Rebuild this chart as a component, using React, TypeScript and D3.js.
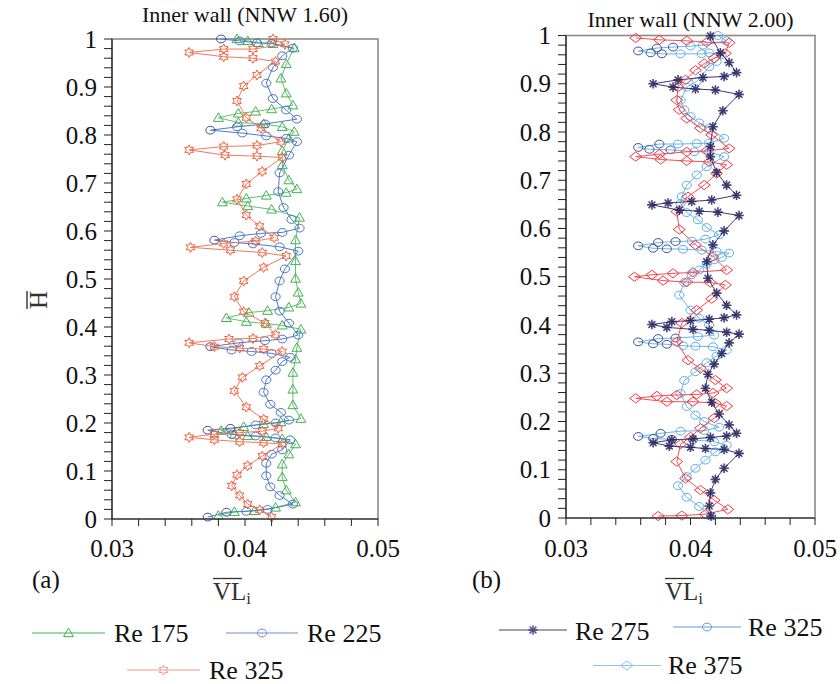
import React from 'react';
import * as d3 from 'd3';

// ---------- axis data ----------
const xTickValues = [0.03, 0.04, 0.05];
const xTickLabels = ['0.03', '0.04', '0.05'];
const yTickValues = [0, 0.1, 0.2, 0.3, 0.4, 0.5, 0.6, 0.7, 0.8, 0.9, 1];
const yTickLabels = ['0', '0.1', '0.2', '0.3', '0.4', '0.5', '0.6', '0.7', '0.8', '0.9', '1'];

// ---------- panel (a) Inner wall (NNW 1.60) ----------
const re175H = [0.007,0.015,0.017,0.024,0.035,0.060,0.0875,0.114,0.135,0.156,0.167,0.171,0.173,0.176,0.184,0.192,0.198,0.202,0.209,0.2375,0.270,0.305,0.333,0.357,0.395,0.4035,0.407,0.411,0.419,0.430,0.434,0.441,0.449,0.472,0.501,0.5375,0.581,0.628,0.645,0.652,0.660,0.668,0.674,0.680,0.6875,0.706,0.7375,0.767,0.793,0.807,0.817,0.823,0.826,0.836,0.845,0.849,0.854,0.862,0.887,0.918,0.948,0.981,0.990,0.992,0.996,1.0];
const re175VL = [0.0380,0.0392,0.0407,0.0423,0.0438,0.0431,0.0428,0.0428,0.0433,0.0438,0.0428,0.0416,0.0402,0.0392,0.0382,0.0399,0.0414,0.0427,0.0442,0.0436,0.0436,0.0436,0.0438,0.0439,0.0442,0.0428,0.0416,0.0401,0.0386,0.0403,0.0417,0.0433,0.0442,0.0440,0.0438,0.0438,0.0438,0.0441,0.0420,0.0402,0.0383,0.0401,0.0416,0.0431,0.0439,0.0433,0.0428,0.0428,0.0433,0.0437,0.0428,0.0414,0.0395,0.0380,0.0395,0.0408,0.0420,0.0436,0.0431,0.0427,0.0431,0.0437,0.0421,0.0410,0.0402,0.0394];

const re225H = [0.004,0.014,0.016,0.020,0.031,0.049,0.067,0.090,0.116,0.135,0.144,0.165,0.169,0.173,0.176,0.185,0.189,0.196,0.200,0.206,0.222,0.239,0.264,0.290,0.310,0.328,0.337,0.345,0.349,0.352,0.359,0.367,0.3715,0.375,0.383,0.408,0.433,0.463,0.496,0.521,0.558,0.567,0.573,0.576,0.581,0.590,0.595,0.597,0.606,0.624,0.649,0.682,0.721,0.758,0.786,0.793,0.798,0.804,0.810,0.817,0.823,0.833,0.852,0.876,0.908,0.941,0.965,0.981,0.991,0.992,0.996,1.0];
const re225VL = [0.0372,0.0386,0.0401,0.0417,0.0436,0.0426,0.0419,0.0416,0.0416,0.0420,0.0428,0.0434,0.0423,0.0408,0.0390,0.0372,0.0389,0.0408,0.0423,0.0433,0.0427,0.0419,0.0414,0.0416,0.0423,0.0428,0.0434,0.0420,0.0405,0.0390,0.0374,0.0395,0.0415,0.0428,0.0440,0.0433,0.0426,0.0423,0.0426,0.0430,0.0440,0.0426,0.0406,0.0392,0.0377,0.0396,0.0412,0.0428,0.0441,0.0435,0.0429,0.0425,0.0426,0.0433,0.0439,0.0431,0.0416,0.0398,0.0374,0.0394,0.0415,0.0439,0.0431,0.0421,0.0416,0.0421,0.0428,0.0436,0.0420,0.0409,0.0396,0.0382];

const re325aH = [0.004,0.019,0.031,0.049,0.069,0.092,0.111,0.131,0.156,0.159,0.161,0.165,0.170,0.177,0.180,0.183,0.189,0.208,0.233,0.267,0.295,0.319,0.349,0.354,0.356,0.359,0.367,0.375,0.376,0.384,0.408,0.432,0.463,0.496,0.524,0.548,0.555,0.560,0.566,0.574,0.579,0.586,0.610,0.633,0.666,0.698,0.724,0.753,0.756,0.758,0.769,0.776,0.778,0.786,0.814,0.836,0.871,0.902,0.925,0.953,0.960,0.963,0.972,0.979,0.979,0.989,1.0];
const re325aVL = [0.0420,0.0411,0.0402,0.0396,0.0390,0.0394,0.0402,0.0413,0.0428,0.0414,0.0396,0.0377,0.0358,0.0377,0.0396,0.0413,0.0425,0.0414,0.0401,0.0392,0.0398,0.0411,0.0428,0.0414,0.0396,0.0377,0.0358,0.0388,0.0406,0.0423,0.0415,0.0399,0.0392,0.0399,0.0414,0.0431,0.0413,0.0389,0.0359,0.0384,0.0408,0.0422,0.0411,0.0401,0.0394,0.0401,0.0413,0.0428,0.0409,0.0385,0.0358,0.0384,0.0409,0.0427,0.0412,0.0401,0.0394,0.0399,0.0409,0.0423,0.0406,0.0384,0.0358,0.0384,0.0406,0.0430,0.0421];

// ---------- panel (b) Inner wall (NNW 2.00) ----------
const re275H = [0.004,0.025,0.052,0.080,0.103,0.134,0.142,0.144,0.1465,0.149,0.156,0.162,0.164,0.167,0.170,0.1755,0.193,0.2155,0.240,0.269,0.298,0.319,0.341,0.363,0.381,0.385,0.389,0.391,0.395,0.401,0.407,0.409,0.412,0.415,0.421,0.441,0.466,0.497,0.531,0.566,0.595,0.627,0.634,0.636,0.638,0.649,0.653,0.656,0.659,0.669,0.690,0.716,0.749,0.770,0.811,0.844,0.878,0.887,0.889,0.893,0.900,0.908,0.913,0.915,0.923,0.944,0.964,0.999];
const re275VL = [0.04165,0.0415,0.0416,0.0420,0.0427,0.0439,0.0427,0.0412,0.0400,0.0383,0.0370,0.0385,0.0402,0.0416,0.0429,0.0437,0.0431,0.0423,0.0417,0.0412,0.0414,0.0419,0.0425,0.0431,0.0439,0.0429,0.0415,0.0402,0.0381,0.0369,0.0385,0.0400,0.0415,0.0427,0.0437,0.0429,0.0421,0.0414,0.0413,0.0418,0.0427,0.0439,0.0422,0.0407,0.0391,0.0369,0.0382,0.0401,0.0417,0.0437,0.0429,0.0421,0.0416,0.0416,0.0418,0.0426,0.0439,0.0420,0.0404,0.0386,0.0370,0.0390,0.0410,0.0427,0.0437,0.0431,0.0424,0.0416];

const re325bH = [0.004,0.024,0.043,0.067,0.086,0.103,0.120,0.137,0.151,0.158,0.162,0.163,0.165,0.169,0.1755,0.180,0.181,0.188,0.200,0.213,0.231,0.258,0.285,0.303,0.322,0.336,0.348,0.355,0.356,0.357,0.360,0.361,0.365,0.372,0.373,0.376,0.379,0.400,0.414,0.431,0.462,0.488,0.504,0.514,0.526,0.535,0.540,0.549,0.552,0.555,0.557,0.558,0.559,0.564,0.571,0.573,0.574,0.578,0.587,0.602,0.618,0.633,0.652,0.666,0.690,0.711,0.728,0.749,0.759,0.759,0.763,0.764,0.768,0.775,0.775,0.776,0.777,0.787,0.808,0.819,0.832,0.846,0.866,0.893,0.905,0.935,0.946,0.960,0.964,0.962,0.962,0.962,0.964,0.968,0.974,0.976,0.978,0.980,0.989,1.0];
const re325bVL = [0.04167,0.0407,0.0397,0.0390,0.0397,0.0404,0.0412,0.0420,0.0429,0.0419,0.0402,0.0385,0.0370,0.0358,0.0376,0.0392,0.0411,0.0423,0.0411,0.0404,0.0397,0.0392,0.0395,0.0404,0.0413,0.0421,0.0429,0.0418,0.0404,0.0394,0.0381,0.0370,0.0358,0.0374,0.0388,0.0406,0.0419,0.0415,0.0407,0.0400,0.0391,0.0395,0.0401,0.0407,0.0413,0.0419,0.0425,0.0431,0.0421,0.0409,0.0394,0.0381,0.0370,0.0358,0.0374,0.0388,0.0401,0.0412,0.0423,0.0413,0.0406,0.0397,0.0392,0.0393,0.0397,0.0405,0.0413,0.0427,0.0415,0.0403,0.0384,0.0367,0.0358,0.0375,0.0390,0.0405,0.0415,0.0427,0.0415,0.0407,0.0400,0.0395,0.0392,0.0397,0.0405,0.0415,0.0421,0.0425,0.0415,0.0409,0.0392,0.0377,0.0368,0.0358,0.0373,0.0386,0.0400,0.0410,0.0429,0.0422];

const re375H = [0.004,0.005,0.008,0.018,0.037,0.058,0.082,0.117,0.153,0.168,0.186,0.207,0.232,0.238,0.241,0.241,0.248,0.253,0.255,0.256,0.259,0.269,0.286,0.310,0.327,0.365,0.404,0.431,0.4545,0.483,0.488,0.489,0.492,0.500,0.504,0.507,0.509,0.514,0.542,0.566,0.598,0.635,0.666,0.690,0.714,0.732,0.738,0.740,0.743,0.749,0.754,0.759,0.761,0.766,0.794,0.808,0.828,0.846,0.866,0.893,0.908,0.928,0.942,0.953,0.963,0.985,0.986,0.989,0.991,0.995];
const re375VL = [0.0374,0.0393,0.0412,0.0430,0.0419,0.0408,0.0396,0.0389,0.0392,0.0400,0.0408,0.0419,0.0429,0.0420,0.0402,0.0381,0.0356,0.0373,0.0389,0.0405,0.0418,0.0429,0.0420,0.0408,0.0398,0.0389,0.0393,0.0405,0.0417,0.0428,0.0416,0.0397,0.0378,0.0355,0.0369,0.0386,0.0402,0.0429,0.0418,0.0404,0.0391,0.0389,0.0398,0.0411,0.0421,0.0429,0.0415,0.0397,0.0376,0.0356,0.0375,0.0397,0.0413,0.0431,0.0417,0.0408,0.0397,0.0391,0.0389,0.0390,0.0396,0.0404,0.0411,0.0419,0.0428,0.0431,0.0413,0.0397,0.0375,0.0356];

// ---------- helpers ----------
const FONT = "'Liberation Serif', 'Times New Roman', 'DejaVu Serif', serif";
const txt = (size: number) => ({ fontFamily: FONT, fontSize: size + 'px' });
type Pt = { v: number; h: number };
type MarkerKind = 'triangle' | 'circle' | 'star' | 'asterisk' | 'diamond';
type Series = { name: string; pts: Pt[]; color: string; line: string; marker: MarkerKind };

const zipPts = (vl: number[], h: number[]): Pt[] =>
  d3.range(Math.min(vl.length, h.length)).map((i) => ({ v: vl[i], h: h[i] }));

function starPath(r: number): string {
  const pts: [number, number][] = [];
  for (let i = 0; i < 12; i++) {
    const a = (Math.PI / 6) * i - Math.PI / 2;
    const rr = i % 2 === 0 ? r : r * 0.55;
    pts.push([rr * Math.cos(a), rr * Math.sin(a)]);
  }
  return 'M' + pts.map((p) => p[0].toFixed(2) + ',' + p[1].toFixed(2)).join('L') + 'Z';
}

function Marker({ kind, x, y, color, v }: { kind: MarkerKind; x: number; y: number; color: string; v?: number }) {
  if (kind === 'triangle') {
    const p = d3.symbol(d3.symbolTriangle, 42)()!;
    return <path d={p} transform={`translate(${x},${y + 0.8})`} fill="none" stroke={color} strokeWidth={1} />;
  }
  if (kind === 'circle') {
    const c = v !== undefined && v < 0.039 ? '#3c4f98' : color;
    return <ellipse cx={x} cy={y} rx={4.6} ry={3.9} fill="none" stroke={c} strokeWidth={1} />;
  }
  if (kind === 'star') {
    return <path d={starPath(5)} transform={`translate(${x},${y})`} fill="none" stroke={color} strokeWidth={1} />;
  }
  if (kind === 'diamond') {
    return <path d="M-6,0L0,-4.6L6,0L0,4.6Z" transform={`translate(${x},${y})`} fill="none" stroke={color} strokeWidth={1} />;
  }
  const r = 4.8;
  const arms = d3.range(8).map((i) => {
    const a = (Math.PI / 4) * i;
    return `M0,0L${(r * Math.cos(a)).toFixed(2)},${(r * Math.sin(a)).toFixed(2)}`;
  });
  return <path d={arms.join('')} transform={`translate(${x},${y})`} stroke={color} strokeWidth={1.6} fill="none" opacity={0.85} />;
}

function Panel(props: {
  left: number; right: number; top: number; bottom: number;
  title: string; titleY: number; series: Series[];
  tag: string; tagX: number; xLabelX: number; yLabelRightX: number; showYTitle: boolean;
}) {
  const { left, right, top, bottom, title, titleY, series, tag, tagX, xLabelX, yLabelRightX, showYTitle } = props;
  const x = d3.scaleLinear().domain([0.03, 0.05]).range([left, right]);
  const y = d3.scaleLinear().domain([0, 1]).range([bottom, top]);
  const line = d3.line<Pt>().x((d) => x(d.v)).y((d) => y(d.h));
  const xMinor = d3.range(0, 11).map((i) => 0.03 + i * 0.002);
  const yMinor = d3.range(0, 51).map((i) => i * 0.02);
  const yTitleC = 300;
  return (
    <g>
      <text x={(left + right) / 2} y={titleY} textAnchor="middle" style={txt(22)} fill="#111">{title}</text>
      <rect x={left} y={top} width={right - left} height={bottom - top} fill="white" stroke="#8a8a8a" strokeWidth={1.6} />
      {series.map((s) => (
        <g key={s.name}>
          <path d={line(s.pts)!} fill="none" stroke={s.line} strokeWidth={1} />
          {s.pts.map((p, i) => (
            <Marker key={i} kind={s.marker} x={x(p.v)} y={y(p.h)} color={s.color} v={p.v} />
          ))}
        </g>
      ))}
      <line x1={left} x2={left} y1={top} y2={bottom} stroke="#222" strokeWidth={1.2} />
      <line x1={left} x2={right} y1={bottom} y2={bottom} stroke="#222" strokeWidth={1.2} />
      {yMinor.map((t, i) => (
        <line key={'yt' + i} x1={left - 8} x2={left} y1={y(t)} y2={y(t)} stroke="#222" strokeWidth={1} />
      ))}
      {xMinor.map((t, i) => (
        <line key={'xt' + i} x1={x(t)} x2={x(t)} y1={bottom} y2={bottom + 7} stroke="#222" strokeWidth={1} />
      ))}
      {yTickValues.map((t, i) => (
        <text key={'yl' + i} x={yLabelRightX} y={y(t) + 8.5} textAnchor="end" style={txt(25)} fill="#111">{yTickLabels[i]}</text>
      ))}
      {xTickValues.map((t, i) => (
        <text key={'xl' + i} x={x(t)} y={557} textAnchor="middle" style={txt(25)} fill="#111">{xTickLabels[i]}</text>
      ))}
      <text x={tagX} y={588} style={txt(25)} fill="#111">{tag}</text>
      <text x={xLabelX} y={600} style={txt(25)} fill="#333">VL<tspan style={txt(17)} dy={4}>i</tspan></text>
      <line x1={xLabelX} x2={xLabelX + 29} y1={578.5} y2={578.5} stroke="#333" strokeWidth={1.3} />
      {showYTitle && (
        <g>
          <text transform={`translate(47,${yTitleC}) rotate(-90)`} textAnchor="middle" style={txt(25)} fill="#333">H</text>
          <line x1={27} x2={27} y1={yTitleC - 9} y2={yTitleC + 9} stroke="#333" strokeWidth={1.4} />
        </g>
      )}
    </g>
  );
}

function LegendItem({ x1, x2, y, kind, color, label, textX, textY }: { x1: number; x2: number; y: number; kind: MarkerKind; color: string; label: string; textX: number; textY: number }) {
  return (
    <g>
      <line x1={x1} x2={x2} y1={y} y2={y} stroke={color} strokeWidth={1.2} />
      <Marker kind={kind} x={(x1 + x2) / 2} y={y} color={color} />
      <text x={textX} y={textY} style={txt(26)} fill="#111">{label}</text>
    </g>
  );
}

export default function App() {
  const seriesA: Series[] = [
    { name: 'Re 175', pts: zipPts(re175VL, re175H), color: '#3fb34f', line: '#62c070', marker: 'triangle' },
    { name: 'Re 225', pts: zipPts(re225VL, re225H), color: '#4a74c4', line: '#4a7cc8', marker: 'circle' },
    { name: 'Re 325', pts: zipPts(re325aVL, re325aH), color: '#f0603c', line: '#f07a5c', marker: 'star' },
  ];
  const seriesB: Series[] = [
    { name: 'Re 325', pts: zipPts(re325bVL, re325bH), color: '#5eaee6', line: '#6ab6e8', marker: 'circle' },
    { name: 'Re 375', pts: zipPts(re375VL, re375H), color: '#f2383e', line: '#f25055', marker: 'diamond' },
    { name: 'Re 275', pts: zipPts(re275VL, re275H), color: '#24235f', line: '#3a3a78', marker: 'asterisk' },
  ];
  return (
    <svg width={840} height={684} style={{ position: 'absolute', left: 0, top: 0, background: 'white' }}>
      <rect x={0} y={0} width={840} height={684} fill="white" />
      <Panel left={112} right={378} top={39} bottom={519} title="Inner wall (NNW 1.60)" titleY={22}
        series={seriesA} tag="(a)" tagX={32} xLabelX={213} yLabelRightX={97} showYTitle={true} />
      <Panel left={566} right={815} top={35.5} bottom={518} title="Inner wall (NNW 2.00)" titleY={27}
        series={seriesB} tag="(b)" tagX={472} xLabelX={665} yLabelRightX={551} showYTitle={false} />
      <LegendItem x1={32} x2={105} y={633} kind="triangle" color="#3fb34f" label="Re 175" textX={114} textY={642} />
      <LegendItem x1={226} x2={298} y={633} kind="circle" color="#6f8fcf" label="Re 225" textX={307} textY={642} />
      <LegendItem x1={127} x2={200} y={670} kind="star" color="#f59a88" label="Re 325" textX={209} textY={679} />
      <LegendItem x1={499} x2={567} y={630} kind="asterisk" color="#403e7a" label="Re 275" textX={575} textY={640} />
      <LegendItem x1={673} x2={741} y={627} kind="circle" color="#5a9ed8" label="Re 325" textX={748} textY={636} />
      <LegendItem x1={593} x2={661} y={665.5} kind="diamond" color="#8cc4ec" label="Re 375" textX={668} textY={674} />
    </svg>
  );
}
